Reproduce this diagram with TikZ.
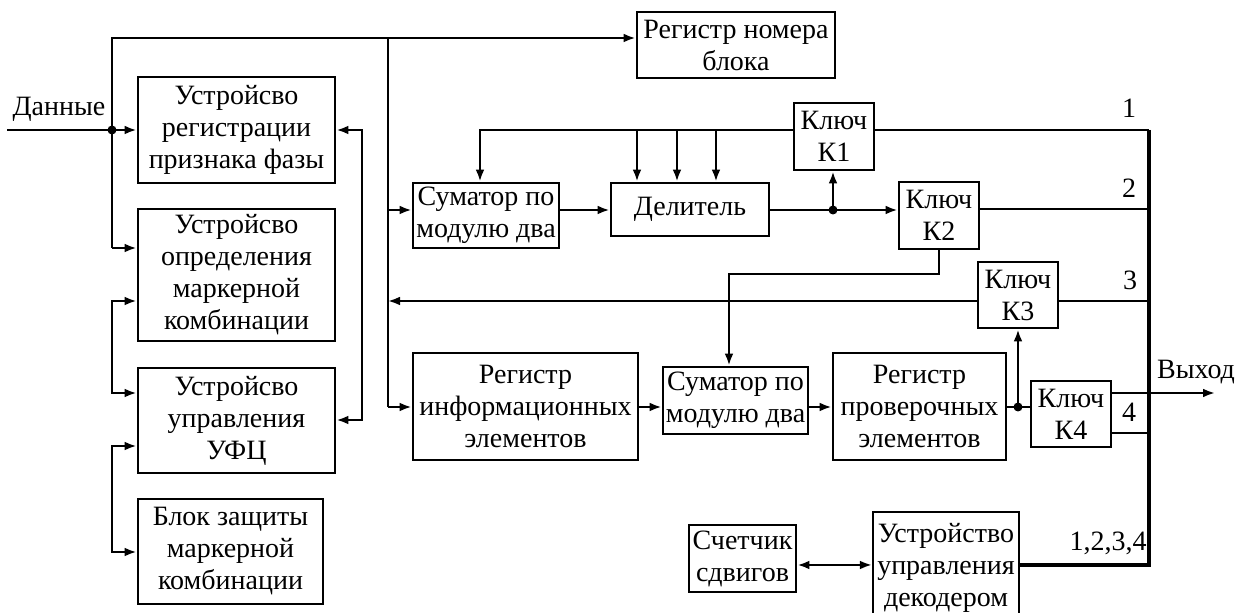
\documentclass[tikz,border=0pt]{standalone}
\usepackage{fontspec}
\setmainfont{Liberation Serif}
\usetikzlibrary{arrows.meta}
\begin{document}
\begin{tikzpicture}[x=0.5pt,y=-0.5pt,
 box/.style={draw,line width=1.4pt,inner sep=0pt,align=center,font=\fontsize{14}{16}\selectfont},
 ln/.style={line width=1.1pt},
 arr/.style={ln,-{Latex[length=6pt,width=4.4pt]}},
 barr/.style={ln,{Latex[length=6pt,width=4.4pt]}-{Latex[length=6pt,width=4.4pt]}},
 bus/.style={line width=2pt},
 dot/.style={circle,fill,inner sep=0pt,minimum size=4.5pt},
 lbl/.style={font=\fontsize{14}{16}\selectfont,inner sep=0pt}]
\useasboundingbox (0,0) rectangle (1238,613);
% boxes
\node[box,minimum width=98.5pt,minimum height=53pt] (reg) at (236.5,130) {Устройсво\\регистрации\\признака фазы};
\node[box,minimum width=98.5pt,minimum height=66pt] (opr) at (236.5,275) {Устройсво\\определения\\маркерной\\комбинации};
\node[box,minimum width=98.5pt,minimum height=52.5pt] (upr) at (236.5,420.5) {Устройсво\\управления\\УФЦ};
\node[box,minimum width=92.5pt,minimum height=52.5pt] (blok) at (230.5,551.5) {Блок защиты\\маркерной\\комбинации};
\node[box,minimum width=99pt,minimum height=33pt] (nom) at (736,45) {Регистр номера\\блока};
\node[box,minimum width=73pt,minimum height=32.5pt] (sum1) at (486,215.5) {Суматор по\\модулю два};
\node[box,minimum width=79pt,minimum height=26.5pt] (del) at (690,209.5) {Делитель};
\node[box,minimum width=40pt,minimum height=33.5pt] (k1) at (834,136.5) {Ключ\\К1};
\node[box,minimum width=40pt,minimum height=33.5pt] (k2) at (939,215.5) {Ключ\\К2};
\node[box,minimum width=40pt,minimum height=33pt] (k3) at (1018,295) {Ключ\\К3};
\node[box,minimum width=112.5pt,minimum height=53.5pt] (rinf) at (525.5,406.5) {Регистр\\информационных\\элементов};
\node[box,minimum width=72.5pt,minimum height=33.5pt] (sum2) at (735.5,400.5) {Суматор по\\модулю два};
\node[box,minimum width=86.5pt,minimum height=53.5pt] (rpr) at (919.5,406.5) {Регистр\\проверочных\\элементов};
\node[box,minimum width=40pt,minimum height=33pt] (k4) at (1071,414) {Ключ\\К4};
\node[box,minimum width=53.5pt,minimum height=33.5pt] (sch) at (742.5,558.5) {Счетчик\\сдвигов};
\node[box,line width=1.1pt,minimum width=73pt,minimum height=56pt] (uud) at (946,568) {Устройство\\управления\\декодером};
% labels
\node[lbl,anchor=base] (ldata) at (59,116) {Данные};
\node[lbl] (l1) at (1129,108) {1};
\node[lbl] (l2) at (1129,188) {2};
\node[lbl] (l3) at (1130,280) {3};
\node[lbl] (l4) at (1129,412) {4};
\node[lbl] (lout) at (1196,372) {Выход};
\node[lbl] (lall) at (1108,543) {1,2,3,4};
% coordinates
\coordinate (din) at (7,130);
\coordinate (t1) at (112,38);
\coordinate (t2) at (388,38);
\coordinate (b1) at (112,248);
\coordinate (c1) at (388,210);
\coordinate (c2) at (388,407);
\coordinate (c3) at (388,301);
\coordinate (p1) at (112,301);
\coordinate (p2) at (112,393);
\coordinate (p3) at (112,446);
\coordinate (p4) at (112,552);
\coordinate (r1) at (362,130);
\coordinate (r2) at (362,420);
\coordinate (f0) at (480,130);
\coordinate (f1) at (637,130);
\coordinate (f2) at (677,130);
\coordinate (f3) at (716,130);
\coordinate (j1) at (833,210);
\coordinate (j2) at (1018,407);
\coordinate (m1) at (939,274);
\coordinate (m2) at (729,274);
\coordinate (o1) at (1149,130);
\coordinate (o2) at (1149,209);
\coordinate (o3) at (1149,301);
\coordinate (o4) at (1149,433);
\coordinate (ob) at (1149,565);
\coordinate (out) at (1215,393);
\coordinate (s1) at (796,565);
% data input and buses
\draw[arr] (din) -- (reg.west);
\node[dot] (d0) at (112,130) {};
\draw[arr] (b1) -- (t1) -- (t1 -| nom.west);
\draw[arr] (b1) -- (b1 -| opr.west);
\draw[ln] (t2) -- (c2);
\draw[arr] (c1) -- (c1 -| sum1.west);
\draw[arr] (c2) -- (c2 -| rinf.west);
% left loops
\draw[barr] (p1 -| opr.west) -- (p1) -- (p2) -- (p2 -| upr.west);
\draw[barr] (p3 -| upr.west) -- (p3) -- (p4) -- (p4 -| blok.west);
\draw[barr] (r1 -| reg.east) -- (r1) -- (r2) -- (r2 -| upr.east);
% feedback from K1
\draw[arr] (f0 -| k1.west) -- (f0) -- (f0 |- sum1.north);
\draw[arr] (f1) -- (f1 |- del.north);
\draw[arr] (f2) -- (f2 |- del.north);
\draw[arr] (f3) -- (f3 |- del.north);
% sum1 -> del -> K2, K1
\draw[arr] (c1 -| sum1.east) -- (c1 -| del.west);
\draw[ln] (j1 -| del.east) -- (j1);
\draw[arr] (j1) -- (j1 -| k2.west);
\draw[arr] (j1) -- (j1 |- k1.south);
\node[dot] (d1) at (j1) {};
% K2 -> sum2
\draw[arr] (m1 |- k2.south) -- (m1) -- (m2) -- (m2 |- sum2.north);
% K3 -> bus2
\draw[arr] (c3 -| k3.west) -- (c3);
% lower chain
\draw[arr] (c2 -| rinf.east) -- (c2 -| sum2.west);
\draw[arr] (c2 -| sum2.east) -- (c2 -| rpr.west);
\draw[ln] (c2 -| rpr.east) -- (j2 -| k4.west);
\draw[arr] (j2) -- (j2 |- k3.south);
\node[dot] (d2) at (j2) {};
% outputs
\draw[ln] (o1 -| k1.east) -- (o1);
\draw[ln] (o2 -| k2.east) -- (o2);
\draw[ln] (o3 -| k3.east) -- (o3);
\draw[ln] (o4 -| k4.east) -- (o4);
\draw[arr] (out -| k4.east) -- (out);
\draw[bus] (o1) -- (ob) -- (ob -| uud.east);
% counter
\draw[barr] (s1 -| sch.east) -- (s1 -| uud.west);
\end{tikzpicture}
\end{document}
